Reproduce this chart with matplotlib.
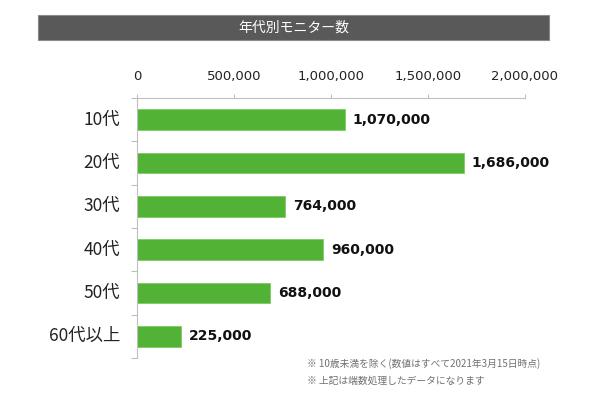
import matplotlib
matplotlib.use('Agg')
import matplotlib.pyplot as plt
from matplotlib.patches import Rectangle

plt.rcParams['font.family'] = ['Noto Sans CJK JP', 'DejaVu Sans']

# data
ages = ['10代', '20代', '30代', '40代', '50代', '60代以上']
monitors = [1070000, 1686000, 764000, 960000, 688000, 225000]
x_ticks = [0, 500000, 1000000, 1500000, 2000000]
title = '年代別モニター数'
notes = ['※ 10歳未満を除く(数値はすべて2021年3月15日時点)',
         '※ 上記は端数処理したデータになります']

fig = plt.figure(figsize=(6, 4), dpi=100)
ax = fig.add_axes([137 / 600, 1 - 358 / 400, (525 - 137) / 600, (358 - 98) / 400])

# title bar
fig.patches.append(Rectangle((38 / 600, 1 - 40 / 400), (549 - 38) / 600, 25 / 400,
                             transform=fig.transFigure, facecolor='#595959',
                             edgecolor='#8a8a8a', lw=0.8))
fig.text(294 / 600, 1 - 27.5 / 400, title, color='white', fontsize=10,
         ha='center', va='center')

pos = list(range(len(ages)))
ax.barh(pos, monitors, height=0.47, color='#52B236', edgecolor='#7ccc62', lw=0.6)
for p, v in zip(pos, monitors):
    ax.text(v + 40000, p, f'{v:,}', va='center', ha='left', fontsize=10,
            fontweight='bold', color='#111111', family=['DejaVu Sans'])

ax.set_xlim(0, 2000000)
ax.set_ylim(len(ages) - 0.5, -0.5)
ax.xaxis.tick_top()
ax.set_xticks(x_ticks)
ax.set_xticklabels([f'{t:,}' for t in x_ticks], fontsize=9.5, color='#222222',
                   family=['DejaVu Sans'])
ax.tick_params(axis='x', length=3, color='#bfbfbf', pad=8)

ax.set_yticks([p + 0.5 for p in pos[:-1]] + [-0.5, len(ages) - 0.5])
ax.set_yticklabels([])
ax.tick_params(axis='y', length=4, color='#bfbfbf')
for p, a in zip(pos, ages):
    ax.text(-0.043, p, a, transform=ax.get_yaxis_transform(), ha='right', va='center',
            fontsize=12.5, color='#222222')

for s in ['right', 'bottom']:
    ax.spines[s].set_visible(False)
for s in ['top', 'left']:
    ax.spines[s].set_color('#bfbfbf')

fig.text(307 / 600, 1 - 364 / 400, notes[0], fontsize=7, color='#707070', va='center')
fig.text(307 / 600, 1 - 381 / 400, notes[1], fontsize=7, color='#707070', va='center')

fig.savefig('out.png', dpi=100)
